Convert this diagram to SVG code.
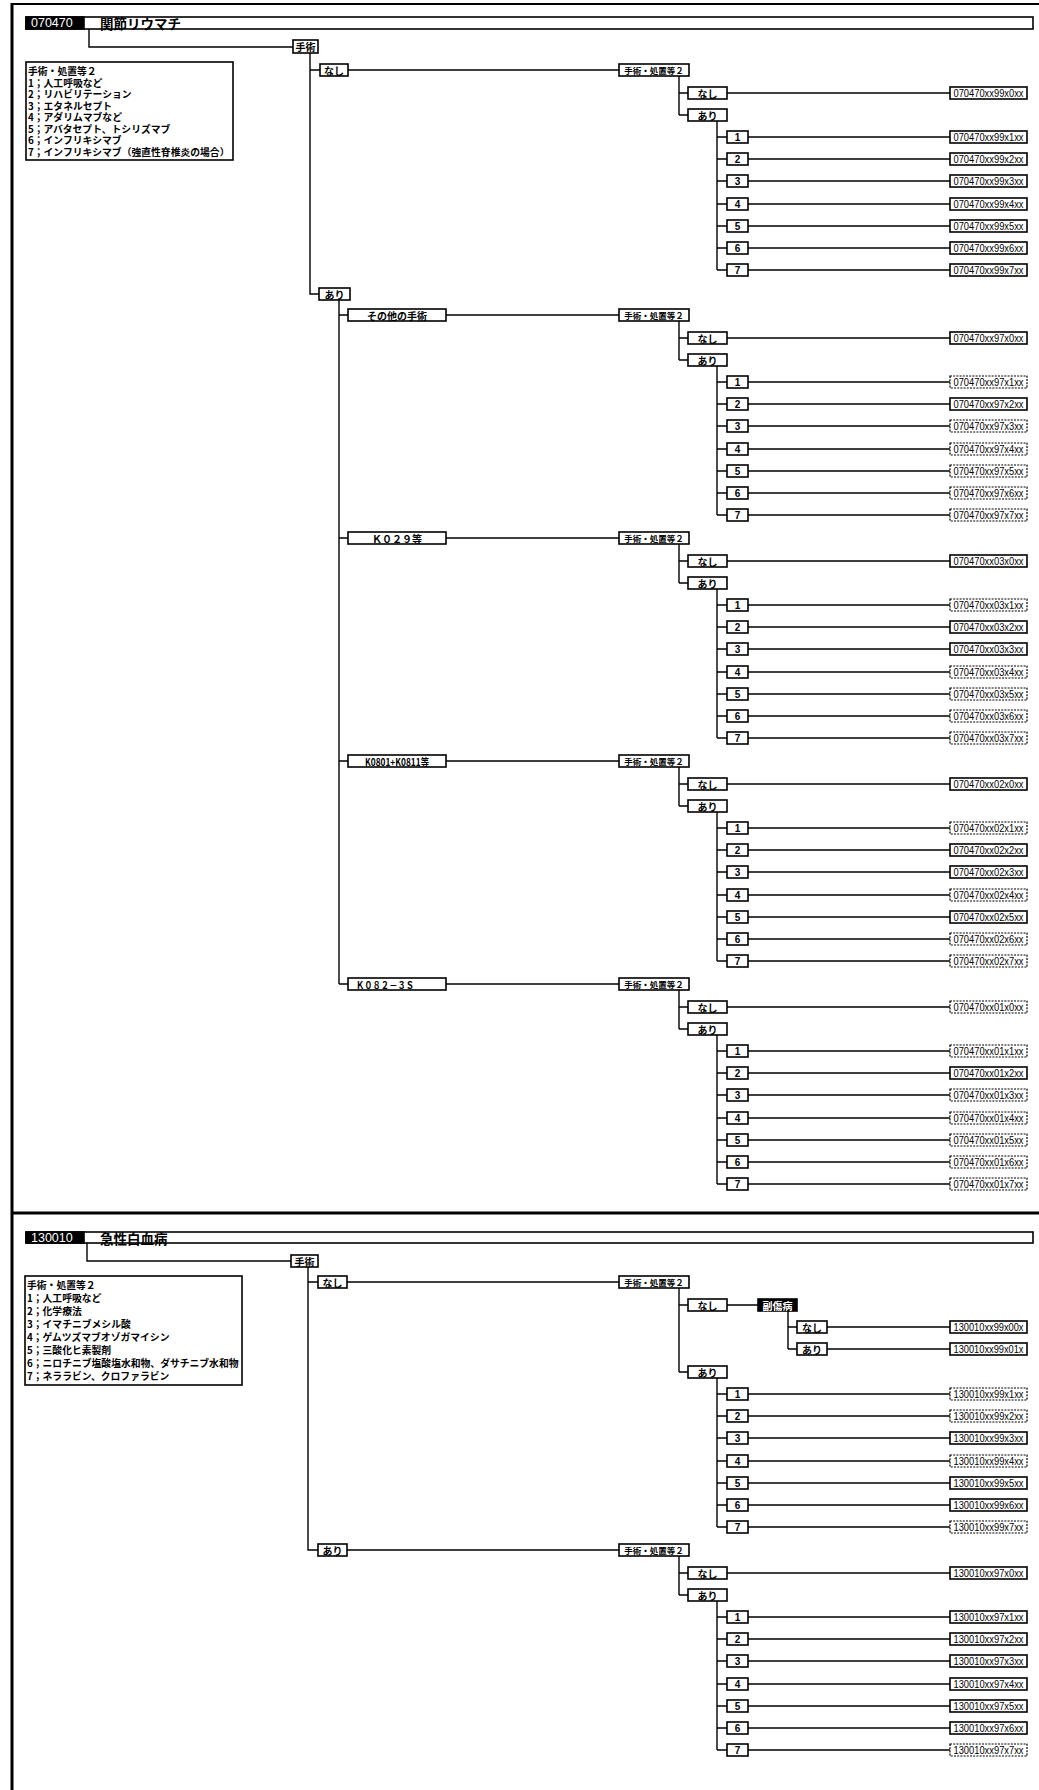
<svg xmlns="http://www.w3.org/2000/svg" width="1039" height="1790" viewBox="0 0 1039 1790">
<style>
.b{fill:#fff;stroke:#000;stroke-width:1.6}
.d{fill:#fff;stroke:#000;stroke-width:1.2;stroke-dasharray:2 1.2}
.k{fill:#000;stroke:#000;stroke-width:1.6}
.ln{fill:none;stroke:#000;stroke-width:1.4}
.fr{fill:none;stroke:#000}
.j{font-family:"Noto Sans CJK JP","Liberation Sans",sans-serif;font-weight:bold;font-size:10px;text-anchor:middle;dominant-baseline:central;fill:#000}
.h{font-family:"Noto Sans CJK JP","Liberation Sans",sans-serif;font-weight:bold;font-size:8.5px;text-anchor:middle;dominant-baseline:central;fill:#000}
.w{fill:#fff}
.n{font-family:"Liberation Sans",sans-serif;font-weight:bold;font-size:10px;text-anchor:middle;dominant-baseline:central}
.c{font-family:"Liberation Sans",sans-serif;font-size:11.5px;text-anchor:middle;dominant-baseline:central}
.lg{font-family:"Noto Sans CJK JP","Liberation Sans",sans-serif;font-weight:bold;font-size:9.8px;dominant-baseline:central}
.tt{font-family:"Noto Sans CJK JP","Liberation Sans",sans-serif;font-weight:bold;font-size:13.5px;dominant-baseline:central}
.tc{font-family:"Liberation Sans",sans-serif;font-size:12.5px;fill:#fff;dominant-baseline:central}
</style>
<rect width="1039" height="1790" fill="#fff"/>
<g id="frame">
<path class="fr" stroke-width="3" d="M12,3V1790"/>
<path class="fr" stroke-width="2" d="M12,4H1039"/>
<path class="fr" stroke-width="3" d="M12,1213H1039"/>
</g>
<g id="connectors" class="ln">
<path d="M89,29V47H293M310,53V294H319M310,70H320M348,70H619M339,300V984M339,315H348M339,538H348M339,761H348M339,984H348M446,315H619M446,538H619M446,761H619M446,984H619"/>
<path d="M679,76V115M679,93H688M679,115H688M727,93H950M717,121V270M717,137H727M717,159H727M717,181H727M717,204H727M717,226H727M717,248H727M717,270H727M748,137H950M748,159H950M748,181H950M748,204H950M748,226H950M748,248H950M748,270H950"/>
<path d="M679,321V360M679,338H688M679,360H688M727,338H950M717,366V515M717,382H727M717,404H727M717,426H727M717,449H727M717,471H727M717,493H727M717,515H727M748,382H950M748,404H950M748,426H950M748,449H950M748,471H950M748,493H950M748,515H950"/>
<path d="M679,544V583M679,561H688M679,583H688M727,561H950M717,589V738M717,605H727M717,627H727M717,649H727M717,672H727M717,694H727M717,716H727M717,738H727M748,605H950M748,627H950M748,649H950M748,672H950M748,694H950M748,716H950M748,738H950"/>
<path d="M679,767V806M679,784H688M679,806H688M727,784H950M717,812V961M717,828H727M717,850H727M717,872H727M717,895H727M717,917H727M717,939H727M717,961H727M748,828H950M748,850H950M748,872H950M748,895H950M748,917H950M748,939H950M748,961H950"/>
<path d="M679,990V1029M679,1007H688M679,1029H688M727,1007H950M717,1035V1184M717,1051H727M717,1073H727M717,1095H727M717,1118H727M717,1140H727M717,1162H727M717,1184H727M748,1051H950M748,1073H950M748,1095H950M748,1118H950M748,1140H950M748,1162H950M748,1184H950"/>
<path d="M87,1243V1261H291M308,1267V1550H318M308,1282H318M347,1282H619M347,1550H619"/>
<path d="M679,1288V1372M679,1305H688M679,1372H688M727,1305H758M788,1311V1349M788,1327H797M788,1349H797M827,1327H950M827,1349H950M717,1378V1527M717,1394H727M717,1416H727M717,1438H727M717,1461H727M717,1483H727M717,1505H727M717,1527H727M748,1394H950M748,1416H950M748,1438H950M748,1461H950M748,1483H950M748,1505H950M748,1527H950"/>
<path d="M679,1556V1595M679,1573H688M679,1595H688M727,1573H950M717,1601V1750M717,1617H727M717,1639H727M717,1661H727M717,1684H727M717,1706H727M717,1728H727M717,1750H727M748,1617H950M748,1639H950M748,1661H950M748,1684H950M748,1706H950M748,1728H950M748,1750H950"/>
</g>
<g id="title1"><rect class="b" x="26" y="17" width="1007" height="12"/><rect class="k" x="26" y="17" width="58" height="12"/><text class="tc" x="31" y="23">070470</text><text class="tt" x="100" y="23">関節リウマチ</text></g>
<g id="legend1"><rect class="b" x="26" y="62" width="207" height="98"/>
<text class="lg" x="28" y="71">手術・処置等２</text><text class="lg" x="28" y="82.5">1；人工呼吸など</text><text class="lg" x="28" y="94">2；リハビリテーション</text><text class="lg" x="28" y="105.5">3；エタネルセプト</text><text class="lg" x="28" y="117">4；アダリムマブなど</text><text class="lg" x="28" y="128.5">5；アバタセプト、トシリズマブ</text><text class="lg" x="28" y="140">6；インフリキシマブ</text><text class="lg" x="28" y="151.5">7；インフリキシマブ（強直性脊椎炎の場合）</text></g>
<g id="n-shujutsu1"><rect class="b" x="293" y="40" width="25" height="13"/><text class="j" x="305.5" y="46.5">手術</text></g>
<g id="n-nashi1"><rect class="b" x="320" y="64" width="28" height="12"/><text class="j" x="334" y="70">なし</text></g>
<g id="n-ari1"><rect class="b" x="319" y="288" width="31" height="12"/><text class="j" x="334.5" y="294">あり</text></g>
<g id="n-s97"><rect class="b" x="348" y="309" width="98" height="12"/><text class="j" x="397" y="315">その他の手術</text></g>
<g id="n-s03"><rect class="b" x="348" y="532" width="98" height="12"/><text class="j" x="397" y="538" textLength="50" lengthAdjust="spacingAndGlyphs">Ｋ０２９等</text></g>
<g id="n-s02"><rect class="b" x="348" y="755" width="98" height="12"/><text class="j" x="397" y="761" textLength="64" lengthAdjust="spacingAndGlyphs">K0801+K0811等</text></g>
<g id="n-s01"><rect class="b" x="348" y="978" width="98" height="12"/><text class="j" x="385" y="984" textLength="58" lengthAdjust="spacingAndGlyphs">Ｋ０８２－３Ｓ</text></g>

<g id="g99">
<g id="g99-h"><rect class="b" x="619" y="64" width="70" height="12"/><text class="h" x="654" y="70">手術・処置等２</text></g>
<g id="g99-nashi"><rect class="b" x="688" y="87" width="39" height="12"/><text class="j" x="707.5" y="93">なし</text></g>
<g id="g99-ari"><rect class="b" x="688" y="109" width="39" height="12"/><text class="j" x="707.5" y="115">あり</text></g>
<g id="g99-c0"><rect class="b" x="950" y="87" width="77" height="12"/><text class="c" x="988.5" y="93" textLength="70" lengthAdjust="spacingAndGlyphs">070470xx99x0xx</text></g>
<g id="g99-1"><rect class="b" x="727" y="131" width="21" height="12"/><text class="n" x="737.5" y="137">1</text></g>
<g id="g99-2"><rect class="b" x="727" y="153" width="21" height="12"/><text class="n" x="737.5" y="159">2</text></g>
<g id="g99-3"><rect class="b" x="727" y="175" width="21" height="12"/><text class="n" x="737.5" y="181">3</text></g>
<g id="g99-4"><rect class="b" x="727" y="198" width="21" height="12"/><text class="n" x="737.5" y="204">4</text></g>
<g id="g99-5"><rect class="b" x="727" y="220" width="21" height="12"/><text class="n" x="737.5" y="226">5</text></g>
<g id="g99-6"><rect class="b" x="727" y="242" width="21" height="12"/><text class="n" x="737.5" y="248">6</text></g>
<g id="g99-7"><rect class="b" x="727" y="264" width="21" height="12"/><text class="n" x="737.5" y="270">7</text></g>
<g id="g99-c1"><rect class="b" x="950" y="131" width="77" height="12"/><text class="c" x="988.5" y="137" textLength="70" lengthAdjust="spacingAndGlyphs">070470xx99x1xx</text></g>
<g id="g99-c2"><rect class="b" x="950" y="153" width="77" height="12"/><text class="c" x="988.5" y="159" textLength="70" lengthAdjust="spacingAndGlyphs">070470xx99x2xx</text></g>
<g id="g99-c3"><rect class="b" x="950" y="175" width="77" height="12"/><text class="c" x="988.5" y="181" textLength="70" lengthAdjust="spacingAndGlyphs">070470xx99x3xx</text></g>
<g id="g99-c4"><rect class="b" x="950" y="198" width="77" height="12"/><text class="c" x="988.5" y="204" textLength="70" lengthAdjust="spacingAndGlyphs">070470xx99x4xx</text></g>
<g id="g99-c5"><rect class="b" x="950" y="220" width="77" height="12"/><text class="c" x="988.5" y="226" textLength="70" lengthAdjust="spacingAndGlyphs">070470xx99x5xx</text></g>
<g id="g99-c6"><rect class="b" x="950" y="242" width="77" height="12"/><text class="c" x="988.5" y="248" textLength="70" lengthAdjust="spacingAndGlyphs">070470xx99x6xx</text></g>
<g id="g99-c7"><rect class="b" x="950" y="264" width="77" height="12"/><text class="c" x="988.5" y="270" textLength="70" lengthAdjust="spacingAndGlyphs">070470xx99x7xx</text></g>
</g>

<g id="g97">
<g id="g97-h"><rect class="b" x="619" y="309" width="70" height="12"/><text class="h" x="654" y="315">手術・処置等２</text></g>
<g id="g97-nashi"><rect class="b" x="688" y="332" width="39" height="12"/><text class="j" x="707.5" y="338">なし</text></g>
<g id="g97-ari"><rect class="b" x="688" y="354" width="39" height="12"/><text class="j" x="707.5" y="360">あり</text></g>
<g id="g97-c0"><rect class="b" x="950" y="332" width="77" height="12"/><text class="c" x="988.5" y="338" textLength="70" lengthAdjust="spacingAndGlyphs">070470xx97x0xx</text></g>
<g id="g97-1"><rect class="b" x="727" y="376" width="21" height="12"/><text class="n" x="737.5" y="382">1</text></g>
<g id="g97-2"><rect class="b" x="727" y="398" width="21" height="12"/><text class="n" x="737.5" y="404">2</text></g>
<g id="g97-3"><rect class="b" x="727" y="420" width="21" height="12"/><text class="n" x="737.5" y="426">3</text></g>
<g id="g97-4"><rect class="b" x="727" y="443" width="21" height="12"/><text class="n" x="737.5" y="449">4</text></g>
<g id="g97-5"><rect class="b" x="727" y="465" width="21" height="12"/><text class="n" x="737.5" y="471">5</text></g>
<g id="g97-6"><rect class="b" x="727" y="487" width="21" height="12"/><text class="n" x="737.5" y="493">6</text></g>
<g id="g97-7"><rect class="b" x="727" y="509" width="21" height="12"/><text class="n" x="737.5" y="515">7</text></g>
<g id="g97-c1"><rect class="d" x="950" y="376" width="77" height="12"/><text class="c" x="988.5" y="382" textLength="70" lengthAdjust="spacingAndGlyphs">070470xx97x1xx</text></g>
<g id="g97-c2"><rect class="b" x="950" y="398" width="77" height="12"/><text class="c" x="988.5" y="404" textLength="70" lengthAdjust="spacingAndGlyphs">070470xx97x2xx</text></g>
<g id="g97-c3"><rect class="d" x="950" y="420" width="77" height="12"/><text class="c" x="988.5" y="426" textLength="70" lengthAdjust="spacingAndGlyphs">070470xx97x3xx</text></g>
<g id="g97-c4"><rect class="d" x="950" y="443" width="77" height="12"/><text class="c" x="988.5" y="449" textLength="70" lengthAdjust="spacingAndGlyphs">070470xx97x4xx</text></g>
<g id="g97-c5"><rect class="d" x="950" y="465" width="77" height="12"/><text class="c" x="988.5" y="471" textLength="70" lengthAdjust="spacingAndGlyphs">070470xx97x5xx</text></g>
<g id="g97-c6"><rect class="d" x="950" y="487" width="77" height="12"/><text class="c" x="988.5" y="493" textLength="70" lengthAdjust="spacingAndGlyphs">070470xx97x6xx</text></g>
<g id="g97-c7"><rect class="d" x="950" y="509" width="77" height="12"/><text class="c" x="988.5" y="515" textLength="70" lengthAdjust="spacingAndGlyphs">070470xx97x7xx</text></g>
</g>

<g id="g03">
<g id="g03-h"><rect class="b" x="619" y="532" width="70" height="12"/><text class="h" x="654" y="538">手術・処置等２</text></g>
<g id="g03-nashi"><rect class="b" x="688" y="555" width="39" height="12"/><text class="j" x="707.5" y="561">なし</text></g>
<g id="g03-ari"><rect class="b" x="688" y="577" width="39" height="12"/><text class="j" x="707.5" y="583">あり</text></g>
<g id="g03-c0"><rect class="b" x="950" y="555" width="77" height="12"/><text class="c" x="988.5" y="561" textLength="70" lengthAdjust="spacingAndGlyphs">070470xx03x0xx</text></g>
<g id="g03-1"><rect class="b" x="727" y="599" width="21" height="12"/><text class="n" x="737.5" y="605">1</text></g>
<g id="g03-2"><rect class="b" x="727" y="621" width="21" height="12"/><text class="n" x="737.5" y="627">2</text></g>
<g id="g03-3"><rect class="b" x="727" y="643" width="21" height="12"/><text class="n" x="737.5" y="649">3</text></g>
<g id="g03-4"><rect class="b" x="727" y="666" width="21" height="12"/><text class="n" x="737.5" y="672">4</text></g>
<g id="g03-5"><rect class="b" x="727" y="688" width="21" height="12"/><text class="n" x="737.5" y="694">5</text></g>
<g id="g03-6"><rect class="b" x="727" y="710" width="21" height="12"/><text class="n" x="737.5" y="716">6</text></g>
<g id="g03-7"><rect class="b" x="727" y="732" width="21" height="12"/><text class="n" x="737.5" y="738">7</text></g>
<g id="g03-c1"><rect class="d" x="950" y="599" width="77" height="12"/><text class="c" x="988.5" y="605" textLength="70" lengthAdjust="spacingAndGlyphs">070470xx03x1xx</text></g>
<g id="g03-c2"><rect class="b" x="950" y="621" width="77" height="12"/><text class="c" x="988.5" y="627" textLength="70" lengthAdjust="spacingAndGlyphs">070470xx03x2xx</text></g>
<g id="g03-c3"><rect class="b" x="950" y="643" width="77" height="12"/><text class="c" x="988.5" y="649" textLength="70" lengthAdjust="spacingAndGlyphs">070470xx03x3xx</text></g>
<g id="g03-c4"><rect class="d" x="950" y="666" width="77" height="12"/><text class="c" x="988.5" y="672" textLength="70" lengthAdjust="spacingAndGlyphs">070470xx03x4xx</text></g>
<g id="g03-c5"><rect class="d" x="950" y="688" width="77" height="12"/><text class="c" x="988.5" y="694" textLength="70" lengthAdjust="spacingAndGlyphs">070470xx03x5xx</text></g>
<g id="g03-c6"><rect class="d" x="950" y="710" width="77" height="12"/><text class="c" x="988.5" y="716" textLength="70" lengthAdjust="spacingAndGlyphs">070470xx03x6xx</text></g>
<g id="g03-c7"><rect class="d" x="950" y="732" width="77" height="12"/><text class="c" x="988.5" y="738" textLength="70" lengthAdjust="spacingAndGlyphs">070470xx03x7xx</text></g>
</g>

<g id="g02">
<g id="g02-h"><rect class="b" x="619" y="755" width="70" height="12"/><text class="h" x="654" y="761">手術・処置等２</text></g>
<g id="g02-nashi"><rect class="b" x="688" y="778" width="39" height="12"/><text class="j" x="707.5" y="784">なし</text></g>
<g id="g02-ari"><rect class="b" x="688" y="800" width="39" height="12"/><text class="j" x="707.5" y="806">あり</text></g>
<g id="g02-c0"><rect class="b" x="950" y="778" width="77" height="12"/><text class="c" x="988.5" y="784" textLength="70" lengthAdjust="spacingAndGlyphs">070470xx02x0xx</text></g>
<g id="g02-1"><rect class="b" x="727" y="822" width="21" height="12"/><text class="n" x="737.5" y="828">1</text></g>
<g id="g02-2"><rect class="b" x="727" y="844" width="21" height="12"/><text class="n" x="737.5" y="850">2</text></g>
<g id="g02-3"><rect class="b" x="727" y="866" width="21" height="12"/><text class="n" x="737.5" y="872">3</text></g>
<g id="g02-4"><rect class="b" x="727" y="889" width="21" height="12"/><text class="n" x="737.5" y="895">4</text></g>
<g id="g02-5"><rect class="b" x="727" y="911" width="21" height="12"/><text class="n" x="737.5" y="917">5</text></g>
<g id="g02-6"><rect class="b" x="727" y="933" width="21" height="12"/><text class="n" x="737.5" y="939">6</text></g>
<g id="g02-7"><rect class="b" x="727" y="955" width="21" height="12"/><text class="n" x="737.5" y="961">7</text></g>
<g id="g02-c1"><rect class="d" x="950" y="822" width="77" height="12"/><text class="c" x="988.5" y="828" textLength="70" lengthAdjust="spacingAndGlyphs">070470xx02x1xx</text></g>
<g id="g02-c2"><rect class="b" x="950" y="844" width="77" height="12"/><text class="c" x="988.5" y="850" textLength="70" lengthAdjust="spacingAndGlyphs">070470xx02x2xx</text></g>
<g id="g02-c3"><rect class="b" x="950" y="866" width="77" height="12"/><text class="c" x="988.5" y="872" textLength="70" lengthAdjust="spacingAndGlyphs">070470xx02x3xx</text></g>
<g id="g02-c4"><rect class="d" x="950" y="889" width="77" height="12"/><text class="c" x="988.5" y="895" textLength="70" lengthAdjust="spacingAndGlyphs">070470xx02x4xx</text></g>
<g id="g02-c5"><rect class="b" x="950" y="911" width="77" height="12"/><text class="c" x="988.5" y="917" textLength="70" lengthAdjust="spacingAndGlyphs">070470xx02x5xx</text></g>
<g id="g02-c6"><rect class="d" x="950" y="933" width="77" height="12"/><text class="c" x="988.5" y="939" textLength="70" lengthAdjust="spacingAndGlyphs">070470xx02x6xx</text></g>
<g id="g02-c7"><rect class="d" x="950" y="955" width="77" height="12"/><text class="c" x="988.5" y="961" textLength="70" lengthAdjust="spacingAndGlyphs">070470xx02x7xx</text></g>
</g>

<g id="g01">
<g id="g01-h"><rect class="b" x="619" y="978" width="70" height="12"/><text class="h" x="654" y="984">手術・処置等２</text></g>
<g id="g01-nashi"><rect class="b" x="688" y="1001" width="39" height="12"/><text class="j" x="707.5" y="1007">なし</text></g>
<g id="g01-ari"><rect class="b" x="688" y="1023" width="39" height="12"/><text class="j" x="707.5" y="1029">あり</text></g>
<g id="g01-c0"><rect class="d" x="950" y="1001" width="77" height="12"/><text class="c" x="988.5" y="1007" textLength="70" lengthAdjust="spacingAndGlyphs">070470xx01x0xx</text></g>
<g id="g01-1"><rect class="b" x="727" y="1045" width="21" height="12"/><text class="n" x="737.5" y="1051">1</text></g>
<g id="g01-2"><rect class="b" x="727" y="1067" width="21" height="12"/><text class="n" x="737.5" y="1073">2</text></g>
<g id="g01-3"><rect class="b" x="727" y="1089" width="21" height="12"/><text class="n" x="737.5" y="1095">3</text></g>
<g id="g01-4"><rect class="b" x="727" y="1112" width="21" height="12"/><text class="n" x="737.5" y="1118">4</text></g>
<g id="g01-5"><rect class="b" x="727" y="1134" width="21" height="12"/><text class="n" x="737.5" y="1140">5</text></g>
<g id="g01-6"><rect class="b" x="727" y="1156" width="21" height="12"/><text class="n" x="737.5" y="1162">6</text></g>
<g id="g01-7"><rect class="b" x="727" y="1178" width="21" height="12"/><text class="n" x="737.5" y="1184">7</text></g>
<g id="g01-c1"><rect class="d" x="950" y="1045" width="77" height="12"/><text class="c" x="988.5" y="1051" textLength="70" lengthAdjust="spacingAndGlyphs">070470xx01x1xx</text></g>
<g id="g01-c2"><rect class="b" x="950" y="1067" width="77" height="12"/><text class="c" x="988.5" y="1073" textLength="70" lengthAdjust="spacingAndGlyphs">070470xx01x2xx</text></g>
<g id="g01-c3"><rect class="d" x="950" y="1089" width="77" height="12"/><text class="c" x="988.5" y="1095" textLength="70" lengthAdjust="spacingAndGlyphs">070470xx01x3xx</text></g>
<g id="g01-c4"><rect class="d" x="950" y="1112" width="77" height="12"/><text class="c" x="988.5" y="1118" textLength="70" lengthAdjust="spacingAndGlyphs">070470xx01x4xx</text></g>
<g id="g01-c5"><rect class="d" x="950" y="1134" width="77" height="12"/><text class="c" x="988.5" y="1140" textLength="70" lengthAdjust="spacingAndGlyphs">070470xx01x5xx</text></g>
<g id="g01-c6"><rect class="d" x="950" y="1156" width="77" height="12"/><text class="c" x="988.5" y="1162" textLength="70" lengthAdjust="spacingAndGlyphs">070470xx01x6xx</text></g>
<g id="g01-c7"><rect class="d" x="950" y="1178" width="77" height="12"/><text class="c" x="988.5" y="1184" textLength="70" lengthAdjust="spacingAndGlyphs">070470xx01x7xx</text></g>
</g>

<g id="title2"><rect class="b" x="26" y="1232" width="1007" height="11"/><rect class="k" x="26" y="1232" width="58" height="11"/><text class="tc" x="31" y="1237.5">130010</text><text class="tt" x="100" y="1237.5">急性白血病</text></g>
<g id="legend2"><rect class="b" x="25" y="1276" width="217" height="109"/>
<text class="lg" x="27" y="1285">手術・処置等２</text><text class="lg" x="27" y="1298">1；人工呼吸など</text><text class="lg" x="27" y="1311">2；化学療法</text><text class="lg" x="27" y="1324">3；イマチニブメシル酸</text><text class="lg" x="27" y="1337">4；ゲムツズマブオゾガマイシン</text><text class="lg" x="27" y="1349.5">5；三酸化ヒ素製剤</text><text class="lg" x="27" y="1362.5">6；ニロチニブ塩酸塩水和物、ダサチニブ水和物</text><text class="lg" x="27" y="1375.5">7；ネララビン、クロファラビン</text></g>
<g id="n-shujutsu2"><rect class="b" x="291" y="1255" width="27" height="12"/><text class="j" x="304.5" y="1261">手術</text></g>
<g id="n-nashi2"><rect class="b" x="318" y="1276" width="29" height="12"/><text class="j" x="332.5" y="1282">なし</text></g>
<g id="n-ari2"><rect class="b" x="318" y="1544" width="29" height="12"/><text class="j" x="332.5" y="1550">あり</text></g>

<g id="b99">
<g id="b99-h"><rect class="b" x="619" y="1276" width="70" height="12"/><text class="h" x="654" y="1282">手術・処置等２</text></g>
<g id="b99-nashi"><rect class="b" x="688" y="1299" width="39" height="12"/><text class="j" x="707.5" y="1305">なし</text></g>
<g id="b99-fuku"><rect class="k" x="758" y="1299" width="39" height="12"/><text class="j w" x="777.5" y="1305">副傷病</text></g>
<g id="b99-fnashi"><rect class="b" x="797" y="1321" width="30" height="12"/><text class="j" x="812" y="1327">なし</text></g>
<g id="b99-fari"><rect class="b" x="797" y="1343" width="30" height="12"/><text class="j" x="812" y="1349">あり</text></g>
<g id="b99-c00"><rect class="b" x="950" y="1321" width="77" height="12"/><text class="c" x="988.5" y="1327" textLength="70" lengthAdjust="spacingAndGlyphs">130010xx99x00x</text></g>
<g id="b99-c01"><rect class="b" x="950" y="1343" width="77" height="12"/><text class="c" x="988.5" y="1349" textLength="70" lengthAdjust="spacingAndGlyphs">130010xx99x01x</text></g>
<g id="b99-ari"><rect class="b" x="688" y="1366" width="39" height="12"/><text class="j" x="707.5" y="1372">あり</text></g>
<g id="b99-1"><rect class="b" x="727" y="1388" width="21" height="12"/><text class="n" x="737.5" y="1394">1</text></g>
<g id="b99-2"><rect class="b" x="727" y="1410" width="21" height="12"/><text class="n" x="737.5" y="1416">2</text></g>
<g id="b99-3"><rect class="b" x="727" y="1432" width="21" height="12"/><text class="n" x="737.5" y="1438">3</text></g>
<g id="b99-4"><rect class="b" x="727" y="1455" width="21" height="12"/><text class="n" x="737.5" y="1461">4</text></g>
<g id="b99-5"><rect class="b" x="727" y="1477" width="21" height="12"/><text class="n" x="737.5" y="1483">5</text></g>
<g id="b99-6"><rect class="b" x="727" y="1499" width="21" height="12"/><text class="n" x="737.5" y="1505">6</text></g>
<g id="b99-7"><rect class="b" x="727" y="1521" width="21" height="12"/><text class="n" x="737.5" y="1527">7</text></g>
<g id="b99-c1"><rect class="d" x="950" y="1388" width="77" height="12"/><text class="c" x="988.5" y="1394" textLength="70" lengthAdjust="spacingAndGlyphs">130010xx99x1xx</text></g>
<g id="b99-c2"><rect class="d" x="950" y="1410" width="77" height="12"/><text class="c" x="988.5" y="1416" textLength="70" lengthAdjust="spacingAndGlyphs">130010xx99x2xx</text></g>
<g id="b99-c3"><rect class="b" x="950" y="1432" width="77" height="12"/><text class="c" x="988.5" y="1438" textLength="70" lengthAdjust="spacingAndGlyphs">130010xx99x3xx</text></g>
<g id="b99-c4"><rect class="d" x="950" y="1455" width="77" height="12"/><text class="c" x="988.5" y="1461" textLength="70" lengthAdjust="spacingAndGlyphs">130010xx99x4xx</text></g>
<g id="b99-c5"><rect class="b" x="950" y="1477" width="77" height="12"/><text class="c" x="988.5" y="1483" textLength="70" lengthAdjust="spacingAndGlyphs">130010xx99x5xx</text></g>
<g id="b99-c6"><rect class="b" x="950" y="1499" width="77" height="12"/><text class="c" x="988.5" y="1505" textLength="70" lengthAdjust="spacingAndGlyphs">130010xx99x6xx</text></g>
<g id="b99-c7"><rect class="d" x="950" y="1521" width="77" height="12"/><text class="c" x="988.5" y="1527" textLength="70" lengthAdjust="spacingAndGlyphs">130010xx99x7xx</text></g>
</g>

<g id="b97">
<g id="b97-h"><rect class="b" x="619" y="1544" width="70" height="12"/><text class="h" x="654" y="1550">手術・処置等２</text></g>
<g id="b97-nashi"><rect class="b" x="688" y="1567" width="39" height="12"/><text class="j" x="707.5" y="1573">なし</text></g>
<g id="b97-ari"><rect class="b" x="688" y="1589" width="39" height="12"/><text class="j" x="707.5" y="1595">あり</text></g>
<g id="b97-c0"><rect class="b" x="950" y="1567" width="77" height="12"/><text class="c" x="988.5" y="1573" textLength="70" lengthAdjust="spacingAndGlyphs">130010xx97x0xx</text></g>
<g id="b97-1"><rect class="b" x="727" y="1611" width="21" height="12"/><text class="n" x="737.5" y="1617">1</text></g>
<g id="b97-2"><rect class="b" x="727" y="1633" width="21" height="12"/><text class="n" x="737.5" y="1639">2</text></g>
<g id="b97-3"><rect class="b" x="727" y="1655" width="21" height="12"/><text class="n" x="737.5" y="1661">3</text></g>
<g id="b97-4"><rect class="b" x="727" y="1678" width="21" height="12"/><text class="n" x="737.5" y="1684">4</text></g>
<g id="b97-5"><rect class="b" x="727" y="1700" width="21" height="12"/><text class="n" x="737.5" y="1706">5</text></g>
<g id="b97-6"><rect class="b" x="727" y="1722" width="21" height="12"/><text class="n" x="737.5" y="1728">6</text></g>
<g id="b97-7"><rect class="b" x="727" y="1744" width="21" height="12"/><text class="n" x="737.5" y="1750">7</text></g>
<g id="b97-c1"><rect class="b" x="950" y="1611" width="77" height="12"/><text class="c" x="988.5" y="1617" textLength="70" lengthAdjust="spacingAndGlyphs">130010xx97x1xx</text></g>
<g id="b97-c2"><rect class="b" x="950" y="1633" width="77" height="12"/><text class="c" x="988.5" y="1639" textLength="70" lengthAdjust="spacingAndGlyphs">130010xx97x2xx</text></g>
<g id="b97-c3"><rect class="b" x="950" y="1655" width="77" height="12"/><text class="c" x="988.5" y="1661" textLength="70" lengthAdjust="spacingAndGlyphs">130010xx97x3xx</text></g>
<g id="b97-c4"><rect class="b" x="950" y="1678" width="77" height="12"/><text class="c" x="988.5" y="1684" textLength="70" lengthAdjust="spacingAndGlyphs">130010xx97x4xx</text></g>
<g id="b97-c5"><rect class="b" x="950" y="1700" width="77" height="12"/><text class="c" x="988.5" y="1706" textLength="70" lengthAdjust="spacingAndGlyphs">130010xx97x5xx</text></g>
<g id="b97-c6"><rect class="b" x="950" y="1722" width="77" height="12"/><text class="c" x="988.5" y="1728" textLength="70" lengthAdjust="spacingAndGlyphs">130010xx97x6xx</text></g>
<g id="b97-c7"><rect class="d" x="950" y="1744" width="77" height="12"/><text class="c" x="988.5" y="1750" textLength="70" lengthAdjust="spacingAndGlyphs">130010xx97x7xx</text></g>
</g>
</svg>
